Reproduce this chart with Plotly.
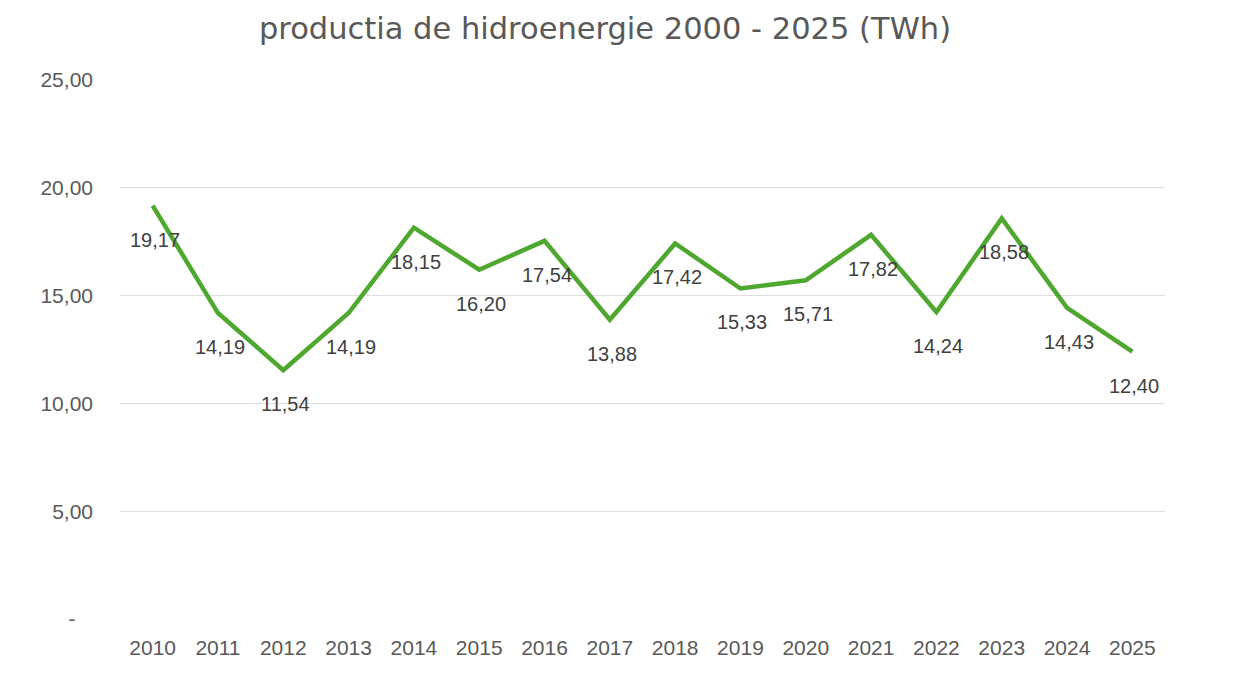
import plotly.graph_objects as go

years = [str(y) for y in range(2010, 2026)]
values = [19.17, 14.19, 11.54, 14.19, 18.15, 16.20, 17.54, 13.88,
          17.42, 15.33, 15.71, 17.82, 14.24, 18.58, 14.43, 12.40]
y_tick_vals = [0, 5, 10, 15, 20, 25]
y_tick_text = ["-\u00a0\u00a0\u00a0", "5,00", "10,00", "15,00", "20,00", "25,00"]
title_text = "productia de hidroenergie 2000 - 2025 (TWh)"

GREY = "#595959"
FONT = "Liberation Sans, Arial, sans-serif"
W, H = 1224, 684

fig = go.Figure()
fig.add_trace(go.Scatter(
    x=list(range(len(years))), y=values, mode="lines",
    line=dict(color="#4ea72e", width=4.5),
    hoverinfo="skip", showlegend=False,
))

for i, v in enumerate(values):
    fig.add_annotation(
        x=i, y=v, xref="x", yref="y", text=f"{v:.2f}".replace(".", ","),
        showarrow=False, yshift=-34, xshift=2,
        font=dict(family=FONT, size=20, color="#404040"),
    )

fig.update_layout(
    width=W, height=H,
    margin=dict(l=112, r=67, t=72, b=73),
    paper_bgcolor="white", plot_bgcolor="white",
    title=dict(text=title_text, x=(605 - 8) / W, xanchor="center", xref="container",
               y=1 - (28 - 8) / H, yanchor="middle", yref="container",
               font=dict(family="DejaVu Sans, sans-serif", size=30.5, color=GREY)),
    font=dict(family=FONT, size=20, color=GREY),
)
fig.update_xaxes(
    range=[-0.5, 15.5], tickvals=list(range(len(years))), ticktext=years,
    showgrid=False, showline=False, zeroline=False,
    ticks="", ticklabelstandoff=14,
    tickfont=dict(family=FONT, size=21, color=GREY),
)
fig.update_yaxes(
    range=[0, 25], tickvals=y_tick_vals, ticktext=y_tick_text,
    showgrid=True, gridcolor="#dedede", gridwidth=1, zeroline=False,
    showline=False, ticks="", ticklabelstandoff=26,
    tickfont=dict(family=FONT, size=21, color=GREY),
)

fig.write_html("out.html")
